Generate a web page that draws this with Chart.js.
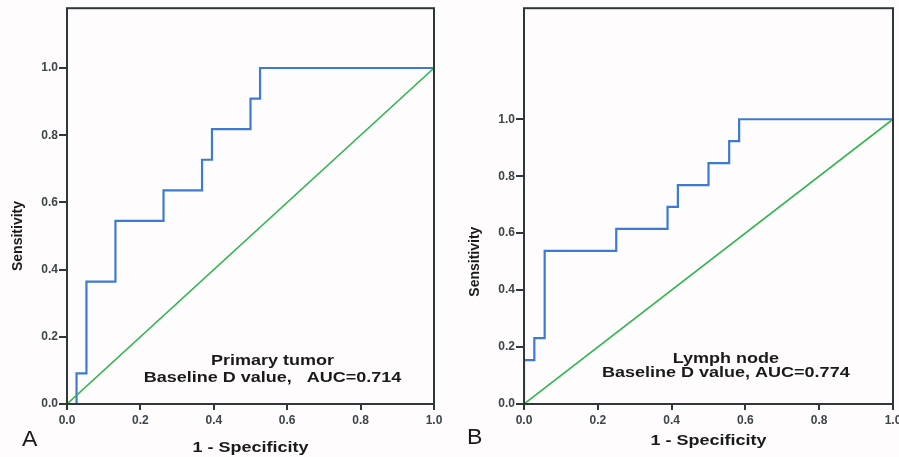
<!DOCTYPE html>
<html>
<head>
<meta charset="utf-8">
<script src="https://cdn.jsdelivr.net/npm/chart.js@4"></script>
<style>
  html, body { margin: 0; padding: 0; background: #fefcfc; }
  .wrap { position: relative; width: 899px; height: 457px; overflow: hidden; }
  .panel { position: absolute; top: 0; height: 457px; }
  #rocA { left: 0; width: 450px; }
  #rocB { left: 450px; width: 449px; }
</style>
</head>
<body>
<div class="wrap">
  <div class="panel" id="rocA"><canvas id="chartA"></canvas></div>
  <div class="panel" id="rocB"><canvas id="chartB"></canvas></div>
</div>
<script>
// ── Data ──
const tickValues = [0, 0.2, 0.4, 0.6, 0.8, 1.0];
const diagX = [0, 1];
const diagY = [0, 1];

// Panel A — primary tumor (corner points of the step curve)
const tumorFpr = [0, 0.026, 0.053, 0.132, 0.263, 0.368, 0.395, 0.5, 0.526, 1];
const tumorTpr = [0, 0.091, 0.364, 0.545, 0.636, 0.727, 0.818, 0.909, 1, 1];

// Panel B — lymph node
const nodeFpr = [0, 0, 0.028, 0.056, 0.25, 0.389, 0.417, 0.5, 0.556, 0.583, 1];
const nodeTpr = [0, 0.154, 0.231, 0.538, 0.615, 0.692, 0.769, 0.846, 0.923, 1, 1];

const xTitle = '1 - Specificity';
const yTitle = 'Sensitivity';

const FONT = "'Liberation Sans', Arial, sans-serif";
const AXIS = '#2f3838';

function pts(xs, ys) { return xs.map((x, i) => ({ x: x, y: ys[i] })); }

// text is a bit wider in the original figure
function wideText(ctx, txt, x, y, sx) {
    ctx.save();
    ctx.translate(x, y);
    ctx.scale(sx, 1);
    ctx.fillText(txt, 0, 0);
    ctx.restore();
}

// frame + labels drawn over the chart
const framePlugin = {
    id: 'frame',
    afterDraw(chart, args, o) {
        const ctx = chart.ctx, a = chart.chartArea;
        const xs = chart.scales.x, ys = chart.scales.y;
        ctx.save();
        ctx.strokeStyle = AXIS;
        ctx.lineWidth = 2;
        ctx.strokeRect(a.left, a.top, a.right - a.left, a.bottom - a.top);

        ctx.fillStyle = '#1a1a1a';
        ctx.textAlign = 'center';
        ctx.textBaseline = 'middle';

        // axis titles
        ctx.font = 'bold 15px ' + FONT;
        wideText(ctx, xTitle, (a.left + a.right) / 2, o.xTitleY, 1.2);
        ctx.save();
        ctx.font = 'bold 14px ' + FONT;
        ctx.translate(o.yTitleX, ys.getPixelForValue(0.5));
        ctx.rotate(-Math.PI / 2);
        ctx.scale(1, 1.1);
        ctx.fillText(yTitle, 0, 0);
        ctx.restore();

        // legend text inside plot
        ctx.font = 'bold 15px ' + FONT;
        const cx = xs.getPixelForValue(o.noteX);
        wideText(ctx, o.note1, cx, ys.getPixelForValue(o.noteY1), 1.2);
        wideText(ctx, o.note2, cx, ys.getPixelForValue(o.noteY2), 1.2);

        // panel letter
        ctx.font = '22px ' + FONT;
        ctx.textAlign = 'left';
        wideText(ctx, o.letter, o.letterX, o.letterY, 1.05);
        ctx.restore();
    }
};

function makeRoc(id, fpr, tpr, yMax, pad, yWidth, opts) {
    return new Chart(document.getElementById(id), {
        type: 'line',
        data: {
            datasets: [
                {
                    data: pts(diagX, diagY),
                    borderColor: '#2db54c',
                    borderWidth: 1.6,
                    pointRadius: 0,
                    tension: 0
                },
                {
                    data: pts(fpr, tpr),
                    borderColor: '#3d7ad2',
                    borderWidth: 2.2,
                    pointRadius: 0,
                    stepped: 'before'
                }
            ]
        },
        options: {
            responsive: true,
            maintainAspectRatio: false,
            animation: false,
            events: [],
            layout: { padding: pad },
            plugins: {
                legend: { display: false },
                tooltip: { enabled: false },
                frame: opts
            },
            scales: {
                x: {
                    type: 'linear',
                    min: 0, max: 1,
                    afterFit: s => { s.height = 53; s.paddingLeft = 0; s.paddingRight = 0; },
                    afterBuildTicks: s => { s.ticks = tickValues.map(v => ({ value: v })); },
                    grid: { drawOnChartArea: false, tickLength: 6, color: AXIS, lineWidth: 2 },
                    border: { display: false },
                    ticks: {
                        padding: 3,
                        maxRotation: 0,
                        color: '#3c4548',
                        font: { family: FONT, size: 12, weight: 'bold' },
                        callback: v => v.toFixed(1)
                    }
                },
                y: {
                    type: 'linear',
                    min: 0, max: yMax,
                    afterFit: s => { s.width = yWidth; },
                    afterBuildTicks: s => { s.ticks = tickValues.map(v => ({ value: v })); },
                    grid: { drawOnChartArea: false, tickLength: 8, color: AXIS, lineWidth: 2 },
                    border: { display: false },
                    ticks: {
                        padding: 1,
                        color: '#3c4548',
                        font: { family: FONT, size: 12, weight: 'bold' },
                        callback: v => v.toFixed(1)
                    }
                }
            }
        },
        plugins: [framePlugin]
    });
}

makeRoc('chartA', tumorFpr, tumorTpr, 1.178,
    { left: 0, right: 16, top: 8, bottom: 0 }, 67,
    {
        xTitleY: 448, yTitleX: 18, letter: 'A', letterX: 22, letterY: 440,
        noteX: 0.56, noteY1: 0.128, noteY2: 0.078,
        note1: 'Primary tumor', note2: 'Baseline D value,   AUC=0.714'
    });

makeRoc('chartB', nodeFpr, nodeTpr, 1.39,
    { left: 0, right: 6, top: 8, bottom: 0 }, 74,
    {
        xTitleY: 441, yTitleX: 25, letter: 'B', letterX: 17, letterY: 438,
        noteX: 0.547, noteY1: 0.157, noteY2: 0.108,
        note1: 'Lymph node', note2: 'Baseline D value, AUC=0.774'
    });
</script>
</body>
</html>
